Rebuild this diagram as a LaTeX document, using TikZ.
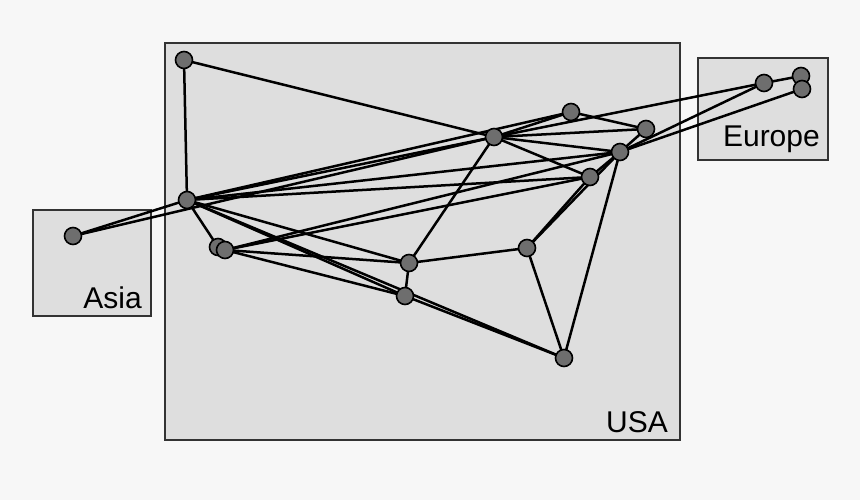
\documentclass[tikz,border=0pt]{standalone}
\usepackage{fontspec}
\setmainfont{Liberation Sans}
\usepackage{tikz}
\usetikzlibrary{backgrounds}
\definecolor{netpaper}{HTML}{F7F7F7}
\definecolor{netregion}{HTML}{DEDEDE}
\definecolor{netframe}{HTML}{333333}
\definecolor{netnode}{HTML}{6E6E6E}
\pgfdeclarelayer{regions}
\pgfsetlayers{regions,background,main}
\tikzset{
  region/.style={draw=netframe, fill=netregion, line width=1.5pt},
  regionlbl/.style={anchor=base east, inner sep=0pt, font=\fontsize{30}{36}\selectfont},
  router/.style={circle, draw=black, fill=netnode, line width=1.6pt,
                 minimum size=17pt, inner sep=0pt},
  link/.style={draw=black, line width=2.5pt},
}

\begin{document}
\begin{tikzpicture}[x=1pt, y=-1pt]
  \useasboundingbox (0,0) rectangle (860,500);

  % routers
  \node[router] (a1)  at (73,236)  {};
  \node[router] (u1)  at (184,60)  {};
  \node[router] (u2)  at (187,200) {};
  \node[router] (u3)  at (218,247) {};
  \node[router] (u4)  at (225,250) {};
  \node[router] (u5)  at (409,263) {};
  \node[router] (u6)  at (405,296) {};
  \node[router] (u7)  at (494,137) {};
  \node[router] (u8)  at (571,112) {};
  \node[router] (u9)  at (646,129) {};
  \node[router] (u10) at (620,152) {};
  \node[router] (u11) at (590,177) {};
  \node[router] (u12) at (527,248) {};
  \node[router] (u13) at (564,358) {};
  \node[router] (e1)  at (764,83)  {};
  \node[router] (e2)  at (801,76)  {};
  \node[router] (e3)  at (802,89)  {};

  % paper and regions
  \begin{pgfonlayer}{regions}
    \fill[netpaper] (0,0) rectangle (860,500);
    \path[region] (165,43) rectangle (680,440);
    \path[region] (33,210) rectangle (151,316);
    \path[region] (698,58) rectangle (828,160);
    \node[regionlbl] (usa)    at (668,432) {USA};
    \node[regionlbl] (asia)   at (142,308) {Asia};
    \node[regionlbl] (europe) at (820,147) {Europe};
  \end{pgfonlayer}

  % links
  \begin{pgfonlayer}{background}
    \foreach \s/\t in {u1/u2, u1/u7, a1/u2, a1/u7, u2/u7, u2/u8, u2/u10, u2/u11,
                       u2/u3, u2/u5, u2/u6, u2/u13, u3/u4, u4/u10, u4/u11, u4/u5, u4/u6,
                       u7/u8, u7/u9, u7/u10, u7/u11, u7/u5, u7/e1, u8/u9, u9/u10,
                       u10/u11, u10/u12, u10/u13, u10/e1, u10/e3, u11/u12,
                       u12/u5, u12/u13, u5/u6, u6/u13, e1/e2}
      \draw[link] (\s.center) -- (\t.center);
  \end{pgfonlayer}
\end{tikzpicture}
\end{document}
